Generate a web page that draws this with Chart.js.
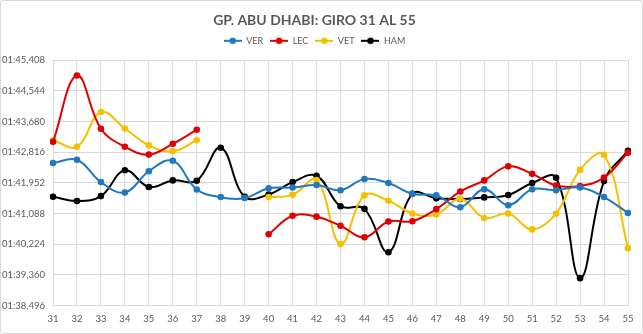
<!DOCTYPE html>
<html><head><meta charset="utf-8">
<script src="https://cdn.jsdelivr.net/npm/chart.js@4"></script>
<style>
html,body{margin:0;padding:0;background:#fff;}
#wrap{position:absolute;left:0;top:0;width:641px;height:332px;border:1px solid #d9d9d9;border-radius:3px;}
canvas{display:block;}
</style></head>
<body><div id="wrap"><canvas id="c" width="641" height="332"></canvas></div>
<script>
const categories = ['31','32','33','34','35','36','37','38','39','40','41','42','43','44','45','46','47','48','49','50','51','52','53','54','55'];
const verLaps = [102.510,102.601,101.974,101.681,102.278,102.573,101.764,101.552,101.524,101.800,101.819,101.891,101.745,102.057,101.946,101.643,101.599,101.267,101.773,101.323,101.773,101.745,101.819,101.552,101.102];
const lecLaps = [103.106,104.975,103.476,102.968,102.747,103.051,103.448,null,null,100.503,101.027,101.000,100.743,100.420,100.862,100.870,101.212,101.709,102.021,102.416,102.206,101.875,101.864,102.104,102.802];
const vetLaps = [103.153,102.968,103.945,103.484,103.006,102.841,103.153,null,null,101.552,101.615,102.029,100.227,101.599,101.450,101.091,101.063,101.505,100.964,101.091,100.641,101.091,102.316,102.739,100.108];
const hamLaps = [101.560,101.441,101.579,102.305,101.836,102.021,102.012,102.940,101.560,101.626,101.974,102.151,101.295,101.220,99.998,101.643,101.516,101.497,101.543,101.607,101.946,102.096,99.269,102.002,102.857];
const yTicks = [98.496,99.360,100.224,101.088,101.952,102.816,103.680,104.544,105.408];
const seriesNames = ['VER','LEC','VET','HAM'];
const seriesColors = ['#2278be','#e00000','#f5c000','#000000'];

function fmt(v){
  const m = Math.floor(v/60 + 1e-9);
  const s = v - m*60;
  return String(m).padStart(2,'0') + ':' + s.toFixed(3).padStart(6,'0').replace('.', ',');
}
function legendIcon(color){
  const c = document.createElement('canvas');
  c.width = 18; c.height = 8;
  const g = c.getContext('2d');
  g.strokeStyle = color; g.lineWidth = 2;
  g.beginPath(); g.moveTo(0,4); g.lineTo(18,4); g.stroke();
  g.fillStyle = color; g.beginPath(); g.arc(9,4,3.2,0,Math.PI*2); g.fill();
  return c;
}
const icons = seriesColors.map(legendIcon);
const allData = [verLaps, lecLaps, vetLaps, hamLaps];
const FONT = "Lato, 'Open Sans', sans-serif";

new Chart(document.getElementById('c'), {
  type: 'line',
  data: {
    labels: categories,
    datasets: allData.map((d,i)=>({
      label: seriesNames[i],
      data: d,
      borderColor: seriesColors[i],
      backgroundColor: seriesColors[i],
      borderWidth: 2,
      pointRadius: 3.3,
      pointHoverRadius: 3.3,
      pointBorderWidth: 0,
      tension: 0.4,
      spanGaps: false,
      fill: false
    }))
  },
  options: {
    responsive: false,
    animation: false,
    layout: { padding: { left: 0, right: 14, top: 0, bottom: 0 } },
    plugins: {
      title: {
        display: true,
        text: 'GP. ABU DHABI: GIRO 31 AL 55',
        color: '#595959',
        font: { family: FONT, size: 14, weight: 'bold' },
        padding: { top: 11.5, bottom: 0 }
      },
      subtitle: {
        display: true,
        text: '',
        weight: 500,
        font: { size: 2 },
        padding: { top: 0, bottom: 2.4 }
      },
      legend: {
        display: true,
        position: 'top',
        labels: {
          color: '#595959',
          font: { family: FONT, size: 9 },
          usePointStyle: true,
          pointStyleWidth: 18,
          boxHeight: 8,
          padding: 7,
          generateLabels: (chart) => chart.data.datasets.map((ds,i)=>({
            text: ds.label,
            fillStyle: ds.borderColor,
            strokeStyle: ds.borderColor,
            fontColor: '#595959',
            lineWidth: 0,
            pointStyle: icons[i],
            datasetIndex: i,
            hidden: false
          }))
        }
      },
      tooltip: { enabled: false }
    },
    scales: {
      x: {
        offset: false,
        grid: { color: '#d9d9d9', drawTicks: false },
        border: { color: '#d9d9d9' },
        ticks: { color: '#595959', font: { family: FONT, size: 9.5 }, padding: 8, maxRotation: 0, autoSkip: false }
      },
      y: {
        min: yTicks[0],
        max: yTicks[yTicks.length-1],
        afterBuildTicks: (s) => { s.ticks = yTicks.map(v=>({value:v})); },
        afterFit: (s) => { s.width = 52; },
        grid: { color: '#d9d9d9', drawTicks: false },
        border: { display: false },
        ticks: { color: '#595959', font: { family: FONT, size: 9.5 }, padding: 8, callback: (v)=>fmt(v) }
      }
    }
  }
});
</script>
</body></html>
